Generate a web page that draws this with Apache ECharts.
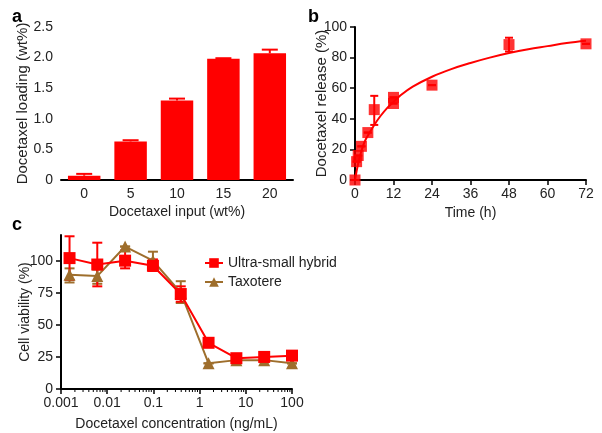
<!DOCTYPE html>
<html><head><meta charset="utf-8">
<script src="https://cdn.jsdelivr.net/npm/echarts@6/dist/echarts.min.js"></script>
<style>html,body{margin:0;padding:0;background:#fff}#c{width:602px;height:433px}</style>
</head><body><div id="c"></div>
<script>
// Panel a
const aCategories = ['0', '5', '10', '15', '20'];
const aLoading = [0.07, 0.63, 1.30, 1.98, 2.07];
const aErrTop = [0.10, 0.65, 1.33, 1.99, 2.13];
// Panel b
const bTime = [0, 0.5, 1, 2, 4, 6, 12, 12, 24, 48, 72];
const bRelease = [0, 12, 16, 22, 31, 46, 50, 54, 62, 88.5, 89];
const bErrLow = [0, 12, 16, 22, 31, 36, 50, 54, 62, 84, 89];
const bErrHigh = [0, 12, 16, 22, 31, 55, 50, 54, 62, 93, 89];
const bFitTime = [0, 1, 2, 3, 4, 6, 8, 10, 12, 14, 18, 24, 30, 36, 42, 48, 54, 60, 66, 72];
const bFitValue = [0, 11, 19, 25, 29, 36, 42, 47, 51, 55, 61, 67.5, 72.5, 76.5, 80, 83, 85.5, 87.5, 89.5, 91];
// Panel c
const cConc = [0.00153, 0.0061, 0.0244, 0.0977, 0.391, 1.5625, 6.25, 25, 100];
const cHybrid = [102, 97, 100, 96, 74, 36, 24, 25, 26];
const cHybridLow = [85, 80, 94, 92, 68, 34, 22, 23, 24];
const cHybridHigh = [119, 114, 108, 101, 80, 38, 26, 27, 28];
const cTaxotere = [89, 88, 111, 100, 75, 20, 22.5, 22.5, 20];
const cTaxLow = [83, 82, 111, 96, 67, 20, 21, 21, 20];
const cTaxHigh = [94, 93, 111, 107, 84, 20, 24, 24, 20];
const cYTicks = [0, 25, 50, 75, 100];

const RED = '#ff0000', BROWN = '#9e6e2c', TXT = '#222', FONT = 'Liberation Sans';

const minorTicks = [];
for (let e = -3; e < 2; e++) for (let m = 2; m <= 9; m++) minorTicks.push([m * Math.pow(10, e), 0]);

function errBars(capW, upOnly) {
  return function (params, api) {
    const x = api.value(0), lo = api.value(1), hi = api.value(2);
    const p1 = api.coord([x, lo]), p2 = api.coord([x, hi]);
    const st = {stroke: api.visual('color'), lineWidth: 2};
    const ch = [
      {type: 'line', shape: {x1: p1[0], y1: p1[1], x2: p2[0], y2: p2[1]}, style: st},
      {type: 'line', shape: {x1: p2[0] - capW / 2, y1: p2[1], x2: p2[0] + capW / 2, y2: p2[1]}, style: st}
    ];
    if (!upOnly) ch.push({type: 'line', shape: {x1: p1[0] - capW / 2, y1: p1[1], x2: p1[0] + capW / 2, y2: p1[1]}, style: st});
    return {type: 'group', children: ch};
  };
}

const axisCommon = {
  axisLine: {lineStyle: {color: '#000', width: 2}},
  axisTick: {lineStyle: {color: '#000', width: 1.5}, length: 5},
  axisLabel: {color: TXT, fontSize: 14, fontFamily: FONT, margin: 8},
  splitLine: {show: false},
  nameTextStyle: {color: TXT, fontSize: 14, fontFamily: FONT},
  nameLocation: 'middle',
  nameMoveOverlap: false
};
function ax(o) { return Object.assign({}, JSON.parse(JSON.stringify(axisCommon)), o, {
  axisLabel: Object.assign({}, axisCommon.axisLabel, o.axisLabel || {}),
  axisTick: Object.assign({}, axisCommon.axisTick, o.axisTick || {}),
  nameTextStyle: Object.assign({}, axisCommon.nameTextStyle, o.nameTextStyle || {})
}); }

const chart = echarts.init(document.getElementById('c'), null, {renderer: 'canvas'});
chart.setOption({
  animation: false,
  textStyle: {fontFamily: FONT},
  title: [
    {text: 'a', left: 7, top: 3, textStyle: {fontSize: 18, fontWeight: 'bold', color: '#000', fontFamily: FONT}},
    {text: 'b', left: 303, top: 3, textStyle: {fontSize: 18, fontWeight: 'bold', color: '#000', fontFamily: FONT}},
    {text: 'c', left: 7, top: 211, textStyle: {fontSize: 18, fontWeight: 'bold', color: '#000', fontFamily: FONT}}
  ],
  grid: [
    {left: 61, top: 27, width: 232, height: 153},
    {left: 355, top: 27, width: 231, height: 153},
    {left: 61, top: 235, width: 231, height: 154}
  ],
  xAxis: [
    ax({type: 'category', gridIndex: 0, data: aCategories, axisTick: {show: false}, name: 'Docetaxel input (wt%)', nameGap: 25,
        axisLabel: {margin: 7}}),
    ax({type: 'value', gridIndex: 1, min: 0, max: 72, interval: 12, name: 'Time (h)', nameGap: 26, axisLabel: {margin: 7}}),
    ax({type: 'log', gridIndex: 2, logBase: 10, min: 0.001, max: 100, name: 'Docetaxel concentration (ng/mL)', nameGap: 28,
        axisLabel: {margin: 7, formatter: v => String(v)}})
  ],
  yAxis: [
    ax({type: 'value', gridIndex: 0, min: 0, max: 2.5, interval: 0.5, name: 'Docetaxel loading (wt%)', nameGap: 31,
        nameTextStyle: {fontSize: 15}, axisLabel: {formatter: v => v === 0 ? '0' : v.toFixed(1)}}),
    ax({type: 'value', gridIndex: 1, min: 0, max: 100, interval: 20, name: 'Docetaxel release (%)', nameGap: 26,
        nameTextStyle: {fontSize: 15}}),
    ax({type: 'value', gridIndex: 2, min: 0, max: 120, name: 'Cell viability (%)', nameGap: 29,
        axisLabel: {customValues: cYTicks}, axisTick: {customValues: cYTicks}})
  ],
  legend: {
    left: 199, top: 251, orient: 'vertical', itemGap: 5, itemWidth: 18, itemHeight: 12,
    textStyle: {color: TXT, fontSize: 14, fontFamily: FONT},
    data: ['Ultra-small hybrid', 'Taxotere']
  },
  series: [
    {type: 'bar', xAxisIndex: 0, yAxisIndex: 0, data: aLoading, barWidth: '70%', itemStyle: {color: RED}},
    {type: 'custom', xAxisIndex: 0, yAxisIndex: 0, itemStyle: {color: RED}, renderItem: errBars(16, true),
      data: aLoading.map((v, i) => [i, v, aErrTop[i]]), z: 1},
    {type: 'line', xAxisIndex: 1, yAxisIndex: 1, data: bFitTime.map((t, i) => [t, bFitValue[i]]), smooth: 0.4,
      showSymbol: false, lineStyle: {color: RED, width: 2}, itemStyle: {color: RED}},
    {type: 'custom', xAxisIndex: 1, yAxisIndex: 1, itemStyle: {color: RED}, renderItem: errBars(8, false),
      data: bTime.map((t, i) => [t, bErrLow[i], bErrHigh[i]])},
    {type: 'scatter', xAxisIndex: 1, yAxisIndex: 1, symbol: 'rect', symbolSize: 11, clip: false,
      itemStyle: {color: RED}, data: bTime.map((t, i) => [t, bRelease[i]])},
    {type: 'custom', xAxisIndex: 2, yAxisIndex: 2, clip: false, silent: true, data: minorTicks,
      renderItem: (p, api) => { const c = api.coord([api.value(0), 0]);
        return {type: 'line', shape: {x1: c[0], y1: c[1], x2: c[0], y2: c[1] + 3}, style: {stroke: '#000', lineWidth: 1}}; }},
    {type: 'custom', xAxisIndex: 2, yAxisIndex: 2, itemStyle: {color: BROWN}, renderItem: errBars(10, false),
      data: cConc.map((x, i) => [x, cTaxLow[i], cTaxHigh[i]])},
    {type: 'line', name: 'Taxotere', xAxisIndex: 2, yAxisIndex: 2, data: cConc.map((x, i) => [x, cTaxotere[i]]),
      symbol: 'triangle', symbolSize: 12, lineStyle: {color: BROWN, width: 2}, itemStyle: {color: BROWN}},
    {type: 'custom', xAxisIndex: 2, yAxisIndex: 2, itemStyle: {color: RED}, renderItem: errBars(10, false),
      data: cConc.map((x, i) => [x, cHybridLow[i], cHybridHigh[i]])},
    {type: 'line', name: 'Ultra-small hybrid', xAxisIndex: 2, yAxisIndex: 2, data: cConc.map((x, i) => [x, cHybrid[i]]),
      symbol: 'rect', symbolSize: 12, lineStyle: {color: RED, width: 2}, itemStyle: {color: RED}}
  ]
});
</script></body></html>
